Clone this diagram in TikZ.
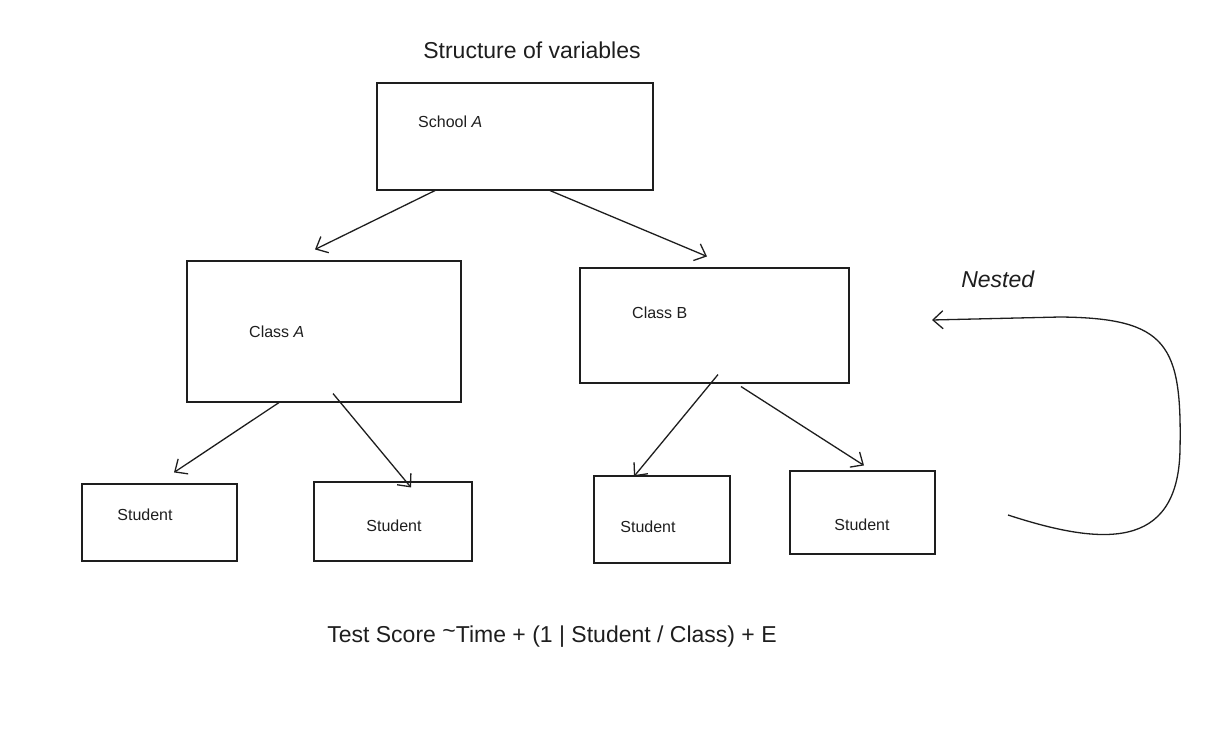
\documentclass[tikz,border=0pt]{standalone}
\usepackage{fontspec}
\setmainfont{Liberation Sans}
\usepackage{tikz}
\usetikzlibrary{positioning,arrows.meta}
\definecolor{inkgray}{RGB}{30,30,30}

\begin{document}
\begin{tikzpicture}[x=1pt,y=-1pt,
  box/.style={draw=inkgray, line width=1.1pt, inner sep=0pt},
  arr/.style={draw=inkgray, line width=1.3pt, -{Straight Barb[length=10pt,width=18pt]}},
  lbl/.style={inner sep=0pt, text=inkgray, font=\fontsize{16}{19}\selectfont},
  big/.style={inner sep=0pt, text=inkgray, font=\fontsize{23}{27}\selectfont}]
\useasboundingbox (0,0) rectangle (1219,736);

% Title
\node[big] (title) at (532,50) {Structure of variables};

% Boxes
\node[box, minimum width=276, minimum height=107] (school) at (515,136.5) {};
\node[box, minimum width=274, minimum height=141] (classA) at (324,331.5) {};
\node[box, minimum width=269, minimum height=115] (classB) at (714.5,325.5) {};
\node[box, minimum width=155, minimum height=77] (stuA) at (159.5,522.5) {};
\node[box, minimum width=158, minimum height=79] (stuB) at (393,521.5) {};
\node[box, minimum width=136, minimum height=87] (stuC) at (662,519.5) {};
\node[box, minimum width=145, minimum height=83] (stuD) at (862.5,512.5) {};

% Labels
\node[lbl, anchor=west] (schoolLbl) at (418,122) {School \textit{A}};
\node[lbl, anchor=west] (classALbl) at (249,332) {Class \textit{A}};
\node[lbl, anchor=west] (classBLbl) at (632,313) {Class B};
\node[lbl] (stuALbl) at (145,515) {Student};
\node[lbl] (stuBLbl) at (394,526) {Student};
\node[lbl] (stuCLbl) at (648,527) {Student};
\node[lbl] (stuDLbl) at (862,525) {Student};

% Arrows
\draw[arr] ([xshift=-80]school.south) -- ([xshift=-9,yshift=11]classA.north);
\draw[arr] ([xshift=35]school.south) -- ([xshift=-7.5,yshift=11]classB.north);
\draw[arr] ([xshift=-45]classA.south) -- ([xshift=14.5,yshift=11]stuA.north);
\draw[arr] ([xshift=9,yshift=9]classA.south) -- ([xshift=18,yshift=-6]stuB.north);
\draw[arr] ([xshift=3.5,yshift=9]classB.south) -- ([xshift=-28,yshift=-1]stuC.north);
\draw[arr] ([xshift=26.5,yshift=-3]classB.south) -- ([xshift=1.5,yshift=5]stuD.north);

% Nested loop
\node[big] (nested) at (998,279) {\textit{Nested}};
\coordinate (loopStart) at (1008,515);
\coordinate (loopEnd) at (932,320);
\draw[arr] (loopStart) .. controls (1100,545) and (1178,552) .. (1180,450)
  .. controls (1182,345) and (1168,318) .. (1060,317) -- (loopEnd);

% Formula
\node[big] (formula) at (552,637) {Test Score \raisebox{4pt}{\textasciitilde}Time + (1 | Student / Class) + E};
\end{tikzpicture}
\end{document}
